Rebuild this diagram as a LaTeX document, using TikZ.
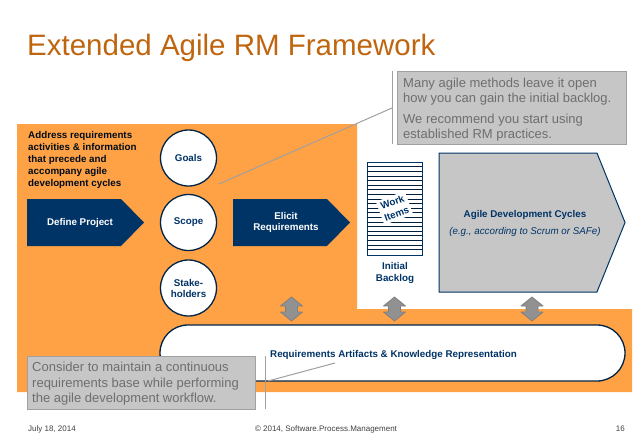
\documentclass[tikz,border=0pt]{standalone}
\usepackage{fontspec}
\setmainfont{Liberation Sans}
\usetikzlibrary{shapes.symbols}

\definecolor{rmorange}{HTML}{FFA145}
\definecolor{rmnavy}{HTML}{003366}
\definecolor{rmtitle}{HTML}{C0650F}
\definecolor{rmgray}{HTML}{C6C6C6}
\definecolor{rmedge}{HTML}{A0A0A0}
\definecolor{rmtext}{HTML}{6E6E6E}

\tikzset{
    phase/.style={signal, signal to=east, signal pointer angle=91, draw=none, fill=rmnavy, text=white,
        minimum width=117pt, minimum height=47pt, inner sep=0pt, align=center, font=\fontsize{9.8}{11.5}\selectfont\bfseries},
    topic/.style={circle, draw=rmnavy!70!black, line width=1.3pt, fill=white, text=rmnavy, minimum size=56pt,
        inner sep=0pt, align=center, font=\fontsize{9.8}{11}\selectfont\bfseries},
    callout/.style={draw=rmedge, line width=1pt, fill=rmgray, text=rmtext, inner sep=0pt, anchor=north west},
    accent/.style={rmedge, line width=1pt},
    leader/.style={rmedge, line width=1pt},
    exchange/.style={draw=black!50, line width=0.8pt, fill=black!43, line join=round},
    caption/.style={text=rmnavy, align=center, font=\fontsize{9.8}{12}\selectfont\bfseries},
    footer/.style={text=black!75, font=\fontsize{8}{9}\selectfont}
}

\begin{document}
\begin{tikzpicture}[x=1pt, y=-1pt]
    \useasboundingbox (0,0) rectangle (638,442);

    % Title
    \node[anchor=base west, inner sep=0pt, text=rmtitle, font=\fontsize{29.5}{34}\selectfont] (title) at (27,55.5) {Extended Agile RM Framework};

    % Orange background
    \fill[rmorange] (17,124) -- (357,124) -- (357,309) -- (632,309) -- (632,392) -- (17,392) -- cycle;

    \node[anchor=north west, inner sep=0pt, text=black!75!rmnavy, align=left, font=\fontsize{9.8}{12}\selectfont\bfseries] (intro) at (28,131.5)
        {Address requirements\\activities \& information\\that precede and\\accompany agile\\development cycles};

    % Phases
    \node[phase] (define) at (74,222.5) {\hspace*{12pt}Define Project};
    \node[phase] (elicit) at (280,222.5) {\hspace*{12pt}Elicit\\\hspace*{12pt}Requirements};

    % Circles
    \node[topic] (goals) at (188.5,158) {Goals};
    \node[topic] (scope) at (188.5,222.5) {Scope};
    \node[topic] (stake) at (188.5,288) {Stake-\\holders};

    % Backlog
    \node[draw=rmnavy, line width=1pt, fill=white, minimum width=55pt, minimum height=93pt, inner sep=0pt] (backlog) at (394.5,208.5) {};
    \foreach \y in {166.6,171.2,...,253} {
        \draw[rmnavy!60!black, line width=0.6pt] (367,\y) -- (422,\y);
    }
    \node[fill=white, rotate=20, inner sep=2.5pt, text=rmnavy, align=center, font=\fontsize{9.8}{12.5}\selectfont\bfseries] (items) at (394.5,208) {Work\\Items};
    \node[caption] (initial) at (395,272.5) {Initial\\Backlog};

    % Agile cycles
    \node[signal, signal to=east, signal pointer angle=136, draw=rmnavy, line width=1pt, fill=rmgray, minimum width=186pt, minimum height=139pt, inner sep=0pt] (cycles) at (518,222.5) {};
    \node[text=rmnavy, font=\fontsize{9.8}{11}\selectfont\bfseries] (cyclestitle) at (525,215) {Agile Development Cycles};
    \node[text=rmnavy, font=\fontsize{9.8}{11}\selectfont\itshape] (cyclesnote) at (525,232) {(e.g., according to Scrum or SAFe)};

    % Requirements base
    \node[draw=rmnavy!70!black, line width=1.3pt, fill=white, rounded corners=28pt, minimum width=465pt, minimum height=56pt, inner sep=0pt] (base) at (392.5,353) {};
    \node[anchor=base west, inner sep=0pt, text=rmnavy, font=\fontsize{9.8}{11}\selectfont\bfseries] (basetext) at (270,357) {Requirements Artifacts \& Knowledge Representation};

    % Exchange arrows
    \foreach \x in {291.5,394.5,532} {
        \draw[exchange, shift={(\x,309)}] (0,-12) -- (11,-3) -- (6,-3) -- (6,3) -- (11,3) -- (0,12) -- (-11,3) -- (-6,3) -- (-6,-3) -- (-11,-3) -- cycle;
    }

    % Upper note
    \node[callout, minimum width=229pt, minimum height=73pt] (note) at (397,71) {};
    \node[anchor=north west, inner sep=0pt, text=rmtext, align=left, font=\fontsize{13}{15}\selectfont] (notetext) at (403,77.5)
        {Many agile methods leave it open\\how you can gain the initial backlog.\\[6pt]We recommend you start using\\established RM practices.};
    \coordinate (barA) at (392,71);
    \coordinate (barB) at (392,144);
    \coordinate (barC) at (392,108);
    \coordinate (noteend) at (219,184);
    \draw[accent] (barA) -- (barB);
    \draw[leader] (barC) -- (noteend);

    % Lower note
    \node[callout, minimum width=228pt, minimum height=53pt] (hint) at (27,356) {};
    \node[anchor=north west, inner sep=0pt, text=rmtext, align=left, font=\fontsize{13}{15.5}\selectfont] (hinttext) at (32,362)
        {Consider to maintain a continuous\\requirements base while performing\\the agile development workflow.};
    \coordinate (barD) at (265,356);
    \coordinate (barE) at (265,409);
    \coordinate (barF) at (268,381);
    \coordinate (hintend) at (335,363);
    \draw[accent] (barD) -- (barE);
    \draw[leader] (barF) -- (hintend);

    % Footer
    \node[footer, anchor=base west, inner sep=0pt] (date) at (28,431) {July 18, 2014};
    \node[footer, anchor=base, inner sep=0pt] (copy) at (326,431) {© 2014, Software.Process.Management};
    \node[footer, anchor=base east, inner sep=0pt] (page) at (625,431) {16};
\end{tikzpicture}
\end{document}
